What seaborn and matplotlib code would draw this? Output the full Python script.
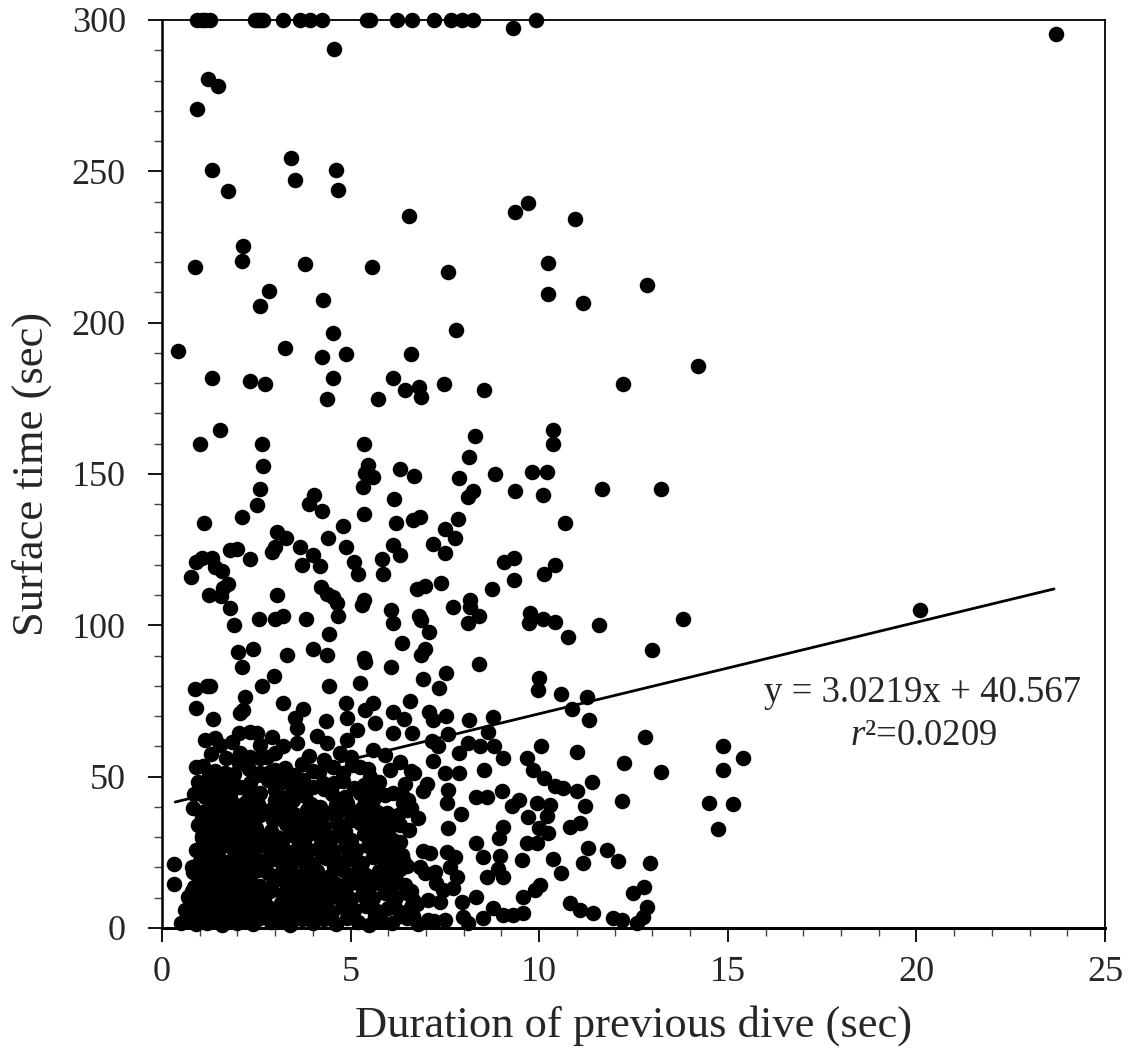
import numpy as np
import pandas as pd
import matplotlib
matplotlib.use("Agg")
import matplotlib.pyplot as plt
import seaborn as sns
from matplotlib.ticker import MultipleLocator

# ---------------- data ----------------
# points whose surface time was capped at 300 s
capped_pts = [(0.92, 300), (1.05, 300), (1.14, 300), (1.27, 300), (2.47, 300), (2.55, 300),
              (2.60, 300), (2.68, 300), (3.22, 300), (3.66, 300), (3.92, 300), (4.23, 300),
              (5.43, 300), (5.51, 300), (6.22, 300), (6.62, 300), (7.22, 300), (7.66, 300),
              (7.95, 300), (8.25, 300), (9.91, 300), (9.30, 297.2), (23.7, 295.5), (4.56, 290.5)]

high_pts = [(1.21, 280.4), (1.48, 278.2), (0.92, 270.5), (3.42, 254.5), (1.33, 250.4), (4.61, 250.3),
            (3.53, 247.3), (1.76, 243.4), (4.67, 243.8), (6.56, 235.4), (9.36, 236.4), (9.69, 239.6),
            (10.96, 234.3), (2.14, 225.4), (2.13, 220.4), (0.87, 218.5), (3.79, 219.4), (5.58, 218.5),
            (7.57, 216.6), (10.23, 219.6), (10.23, 209.6), (11.17, 206.4), (12.87, 212.4), (2.84, 210.4),
            (2.60, 205.5), (4.28, 207.5), (4.53, 196.7), (7.79, 197.5), (0.42, 190.6), (3.27, 191.7),
            (4.25, 188.6), (4.87, 189.6), (6.60, 189.6), (14.22, 185.7), (1.33, 181.6), (2.34, 180.6),
            (2.72, 179.6), (4.53, 181.6), (6.13, 181.6), (6.44, 177.7), (6.81, 178.8), (6.86, 175.5),
            (7.48, 179.6), (8.54, 177.7), (12.21, 179.6), (4.37, 174.7), (5.72, 174.7), (1.53, 164.6),
            (1.01, 159.8), (2.65, 159.8), (5.36, 159.8), (8.29, 162.6), (8.13, 155.7), (10.36, 164.7),
            (10.36, 159.8), (2.67, 152.7), (5.47, 153.0), (5.38, 150.2), (5.60, 149.1), (6.30, 151.8),
            (6.68, 149.3), (7.87, 148.8), (8.82, 149.9), (9.81, 150.7), (10.20, 150.7)]

mid_pts = [(5.34, 145.8), (2.60, 144.9), (4.03, 143.0), (8.25, 144.4), (9.36, 144.4), (11.67, 145.0),
           (10.09, 143.0), (13.23, 144.9), (8.12, 142.3), (2.53, 139.8), (3.90, 140.1), (4.25, 137.9),
           (5.36, 136.8), (6.15, 141.6), (6.20, 133.9), (1.12, 133.9), (2.13, 135.9), (4.79, 132.9),
           (3.04, 130.9), (3.29, 128.7), (4.41, 128.7), (3.00, 126.0), (2.91, 124.3), (3.66, 126.0),
           (4.87, 126.0), (1.80, 124.9), (2.00, 125.1), (1.05, 122.1), (1.32, 122.1), (0.90, 121.0),
           (2.33, 121.8), (6.13, 126.5), (5.82, 121.9), (6.30, 123.2), (5.09, 121.0), (4.00, 123.2),
           (3.70, 119.9), (4.19, 119.6), (1.41, 119.4), (1.58, 117.9), (0.78, 116.1), (5.19, 116.8),
           (5.87, 116.9), (1.76, 113.5), (1.63, 112.2), (1.25, 110.0), (1.56, 109.7), (3.04, 110.0),
           (4.22, 112.6), (4.37, 110.3), (4.54, 109.5), (4.63, 107.3), (5.36, 108.4), (5.31, 106.7),
           (6.07, 105.1), (6.12, 100.9), (1.80, 105.6), (1.92, 100.1), (2.58, 102.1), (3.00, 102.1),
           (3.22, 103.1), (3.81, 102.1), (4.66, 103.1), (10.68, 133.9), (6.66, 134.8), (6.84, 135.9),
           (7.86, 135.0), (7.50, 131.7), (7.77, 128.7), (7.19, 126.9), (7.50, 124.0), (9.08, 121.0),
           (9.34, 122.3), (10.42, 119.9), (10.13, 116.9), (9.33, 115.0), (7.40, 113.9), (6.75, 112.0),
           (6.97, 113.1), (8.76, 112.0), (8.17, 108.4), (7.71, 105.9), (8.17, 106.1), (8.40, 103.1),
           (8.10, 100.9), (6.82, 103.1), (6.86, 101.8), (9.76, 104.2), (9.74, 100.9), (10.09, 102.0),
           (10.42, 101.0), (11.59, 100.1), (13.80, 102.0), (20.10, 105.0)]

lowmid_pts = [(12.98, 92.0), (4.43, 97.0), (2.01, 91.1), (2.40, 92.1), (3.31, 90.2), (4.01, 92.1),
              (4.37, 90.2), (5.36, 89.1), (5.38, 88.0), (6.07, 86.3), (2.11, 86.1), (2.97, 83.2),
              (2.66, 80.0), (4.44, 80.0), (5.25, 81.0), (0.87, 79.0), (1.19, 79.9), (1.27, 79.9),
              (2.20, 76.4), (0.90, 72.6), (2.16, 72.0), (2.07, 70.9), (1.36, 69.0), (3.22, 74.2),
              (3.73, 72.2), (3.53, 69.3), (4.35, 68.4), (4.88, 74.2), (4.90, 69.3), (5.38, 72.0),
              (5.60, 74.2), (5.65, 67.6), (6.13, 71.5), (6.35, 94.1), (10.76, 96.0), (7.08, 97.9),
              (6.97, 92.1), (6.86, 90.2), (8.41, 87.1), (10.00, 82.5), (9.98, 78.6), (7.53, 84.1),
              (6.91, 82.2), (7.35, 79.2), (6.57, 75.1), (10.57, 77.2), (11.26, 76.2), (10.86, 72.3),
              (11.33, 68.7), (7.09, 71.5), (7.19, 68.7), (7.53, 70.0), (8.14, 68.7), (8.78, 69.6),
              (6.42, 68.9), (12.80, 63.2), (14.86, 60.2), (15.40, 56.3), (13.22, 51.4), (14.88, 52.2),
              (14.51, 41.4), (15.13, 40.9), (14.75, 32.8), (12.94, 21.4), (12.78, 13.4), (12.85, 6.8),
              (12.76, 3.7)]

right_low_pts = [(8.63, 64.9), (7.59, 64.1), (6.62, 64.3), (7.15, 61.9), (7.33, 60.1), (8.12, 61.0),
                 (8.43, 60.1), (8.81, 60.1), (10.04, 60.1), (10.99, 58.2), (12.25, 54.4), (7.87, 57.7),
                 (9.05, 56.3), (9.67, 56.3), (7.19, 55.3), (9.83, 52.2), (8.54, 52.2), (7.50, 51.3),
                 (7.88, 51.1), (6.69, 51.1), (10.13, 49.4), (11.41, 48.1), (10.42, 47.0), (10.64, 46.2),
                 (10.99, 45.3), (9.02, 45.4), (7.59, 45.6), (7.02, 47.5), (6.93, 45.4), (8.32, 43.4),
                 (8.62, 43.2), (7.55, 41.4), (12.19, 42.1), (11.21, 40.3), (9.27, 40.3), (9.47, 42.3),
                 (9.93, 41.4), (10.29, 40.6), (9.71, 36.8), (10.20, 37.0), (6.80, 36.2), (7.93, 37.7),
                 (6.51, 42.3), (6.60, 39.5), (7.59, 33.1), (9.03, 33.5), (10.82, 33.5), (11.08, 34.6),
                 (10.00, 32.9), (10.24, 31.3), (8.94, 29.6), (9.67, 28.0), (9.93, 28.2), (8.32, 28.2),
                 (11.30, 26.5), (11.79, 25.8), (6.93, 25.5), (7.10, 24.7), (7.55, 25.2), (7.77, 23.6),
                 (8.96, 23.8), (8.52, 23.4), (9.54, 22.5), (6.40, 22.5), (10.36, 22.7), (11.17, 21.4),
                 (12.10, 22.2), (8.92, 19.4), (10.58, 18.3), (6.84, 20.3), (6.97, 18.1), (7.24, 18.6),
                 (7.64, 20.3), (7.81, 17.0), (8.61, 17.0), (9.05, 17.0), (7.26, 14.8), (7.46, 12.6),
                 (7.72, 13.1), (10.02, 14.2), (9.89, 12.6), (12.49, 11.5), (9.58, 10.3), (8.32, 10.3),
                 (6.49, 11.5), (6.66, 9.3), (7.06, 9.3), (7.37, 8.7), (10.82, 8.2), (11.08, 5.9),
                 (11.43, 4.8), (11.96, 3.2), (12.19, 2.6), (12.58, 1.5), (8.52, 3.2), (8.78, 6.5),
                 (9.05, 4.3), (9.31, 4.3), (9.58, 5.1), (7.99, 3.7), (8.12, 1.5), (7.06, 2.6),
                 (7.50, 2.6), (7.95, 8.7), (6.49, 4.7), (6.66, 3.8)]

left_low_pts = [(1.14, 62.1), (1.41, 62.7), (1.54, 60.5), (2.05, 64.3), (2.33, 64.9), (2.51, 64.3),
                (2.60, 60.5), (2.91, 63.2), (3.57, 61.0), (3.57, 66.0), (2.07, 57.7), (2.33, 56.6),
                (2.60, 56.1), (2.78, 56.6), (0.90, 53.3), (3.26, 52.8), (2.86, 51.6), (0.96, 48.3),
                (1.01, 45.6), (1.67, 51.1), (1.54, 48.9), (1.27, 45.6), (1.80, 43.9), (2.07, 46.7),
                (2.33, 47.8), (2.60, 51.1), (3.48, 42.3), (3.00, 42.3), (2.24, 41.7), (2.86, 39.0),
                (2.95, 35.7), (0.83, 39.5), (1.05, 36.8), (1.27, 35.7), (1.71, 36.8), (2.07, 35.7),
                (2.42, 35.7), (1.05, 29.6), (0.33, 21.1), (0.33, 14.5), (0.83, 18.6), (3.75, 48.9),
                (4.01, 46.7), (4.28, 47.8), (4.19, 40.1), (4.37, 37.9), (4.54, 53.3), (4.72, 57.7),
                (4.90, 62.1), (5.16, 65.4), (4.37, 61.0), (5.25, 53.3), (5.60, 58.8), (5.51, 50.0),
                (6.04, 52.2), (6.13, 64.3), (4.90, 41.2), (5.25, 39.0), (5.60, 42.3), (5.96, 37.9),
                (6.13, 44.5), (3.04, 30.2), (3.66, 32.4), (4.01, 33.5), (4.54, 30.2), (5.25, 34.6),
                (5.69, 32.4), (6.13, 29.1), (1.71, 27.4), (3.57, 22.5)]

dense_pts = [
    (0.5, 1.5), (0.7, 2.8), (0.9, 1.2), (1.0, 3.5), (1.2, 1.8), (1.4, 2.4), (1.6, 1.0), (1.8, 3.1),
    (2.0, 1.6), (2.2, 2.7), (2.4, 1.3), (2.6, 3.4), (2.9, 1.9), (3.1, 2.5), (3.4, 1.1), (3.7, 3.0),
    (4.0, 1.7), (4.3, 2.9), (4.6, 1.4), (4.9, 3.2), (5.2, 2.1), (5.5, 1.0), (5.8, 2.6), (6.1, 1.8),
    (6.5, 3.3), (6.8, 1.2), (7.2, 2.2),
    (0.6, 6.1), (0.8, 5.2), (1.1, 7.0), (1.3, 5.6), (1.5, 6.6), (1.7, 5.0), (1.9, 7.3), (2.1, 5.9),
    (2.3, 6.8), (2.5, 5.3), (2.8, 7.1), (3.0, 5.7), (3.3, 6.4), (3.6, 5.1), (3.9, 7.2), (4.2, 6.0),
    (4.5, 5.4), (4.8, 6.9), (5.1, 5.8), (5.4, 7.4), (5.7, 5.5), (6.0, 6.7), (6.3, 5.2), (6.6, 7.0),
    (0.7, 10.2), (0.95, 9.1), (1.15, 11.0), (1.35, 9.6), (1.55, 10.7), (1.8, 9.3), (2.0, 11.3),
    (2.2, 9.8), (2.45, 10.5), (2.7, 9.2), (3.2, 11.1), (3.5, 9.7), (3.8, 10.4), (4.1, 9.4),
    (4.4, 11.2), (4.7, 10.0), (5.0, 9.5), (5.3, 10.9), (5.6, 9.9), (5.9, 11.4), (6.2, 10.1),
    (0.85, 13.6), (1.05, 14.8), (1.25, 13.2), (1.45, 15.1), (1.7, 13.9), (1.9, 14.4), (2.1, 13.1),
    (2.35, 15.3), (2.6, 14.0), (2.9, 13.4), (3.3, 14.9), (3.6, 13.7), (3.9, 15.2), (4.3, 13.3),
    (4.6, 14.6), (4.9, 13.8), (5.2, 15.0), (5.5, 13.5), (5.8, 14.7), (6.1, 13.9), (6.45, 14.3),
    (0.95, 17.8), (1.2, 18.9), (1.4, 17.2), (1.65, 19.3), (1.85, 17.6), (2.05, 18.5), (2.3, 17.1),
    (2.55, 19.0), (2.8, 18.2), (3.1, 17.5), (3.4, 19.2), (3.75, 17.9), (4.1, 18.7), (4.45, 17.3),
    (4.8, 19.1), (5.1, 18.0), (5.4, 17.4), (5.75, 18.8), (6.05, 17.7), (6.3, 19.4),
    (1.0, 22.1), (1.3, 21.3), (1.5, 23.0), (1.75, 21.8), (2.0, 22.6), (2.25, 21.1), (2.5, 23.2),
    (2.75, 21.6), (3.0, 22.9), (3.35, 21.4), (3.7, 22.4), (4.0, 21.2), (4.35, 23.1), (4.7, 21.9),
    (5.0, 22.7), (5.3, 21.5), (5.6, 23.3), (5.9, 22.0), (6.2, 21.7),
    (0.9, 25.8), (1.15, 26.9), (1.4, 25.2), (1.6, 27.1), (1.9, 25.6), (2.15, 26.4), (2.4, 25.1),
    (2.65, 27.3), (2.95, 26.0), (3.3, 25.4), (3.6, 26.8), (3.9, 25.7), (4.2, 27.0), (4.55, 25.3),
    (4.85, 26.6), (5.15, 25.9), (5.45, 27.2), (5.8, 26.2), (6.05, 25.5),
    (1.05, 30.3), (1.3, 29.4), (1.55, 30.9), (1.85, 29.1), (2.1, 31.0), (2.35, 29.7), (2.6, 30.5),
    (3.2, 29.3), (3.45, 30.8), (3.8, 29.6), (4.1, 31.2), (4.4, 29.9), (4.75, 30.6), (5.0, 29.2),
    (5.35, 31.1), (5.65, 29.8), (5.95, 30.4),
    (0.95, 34.1), (1.2, 33.2), (1.5, 34.8), (1.8, 33.6), (2.2, 34.5), (2.5, 33.1), (3.3, 34.3),
    (3.6, 33.8), (3.95, 34.9), (4.3, 33.4), (4.65, 34.6), (5.5, 33.3), (5.85, 34.7), (6.3, 33.9),
    (1.1, 38.3), (1.4, 37.4), (1.65, 38.9), (2.0, 37.6), (2.3, 38.7), (2.6, 37.2), (3.2, 38.5),
    (3.5, 37.8), (3.85, 39.0), (4.6, 37.3), (4.95, 38.6), (5.4, 37.9), (5.7, 38.4), (6.25, 37.5),
    (6.5, 39.1),
    (0.85, 44.2), (1.15, 43.3), (1.45, 44.8), (2.35, 43.6), (2.6, 44.5), (3.2, 43.1), (3.45, 44.9),
    (3.8, 43.7), (4.5, 44.3), (4.85, 43.4), (5.25, 44.7), (5.9, 43.9), (6.35, 44.1),
    (1.3, 48.4), (1.75, 47.3), (2.8, 48.8), (3.1, 47.6), (3.3, 49.0), (4.55, 47.9), (4.8, 48.6),
    (5.35, 47.2), (5.75, 48.2), (6.45, 47.7),
    (1.1, 53.4), (1.4, 51.8), (2.05, 54.6), (3.0, 52.1), (3.7, 54.2), (4.15, 51.5), (5.05, 53.8),
    (5.45, 52.6), (6.3, 54.9), (6.6, 51.9)]

dense_fill_pts = [
    (0.75, 4.0), (1.05, 3.8), (1.35, 4.2), (1.75, 4.1), (2.15, 3.9), (2.75, 4.3), (3.25, 3.7),
    (3.85, 4.0), (4.45, 4.2), (5.05, 3.9), (5.65, 4.1), (6.3, 3.8),
    (0.85, 8.1), (1.25, 7.8), (1.65, 8.3), (2.4, 8.0), (3.15, 8.2), (3.75, 7.9), (4.35, 8.4),
    (4.95, 8.0), (5.55, 7.7), (6.15, 8.2), (6.75, 8.0),
    (0.8, 12.1), (1.45, 12.4), (2.3, 11.9), (2.85, 12.3), (3.4, 12.0), (4.0, 12.5), (4.6, 12.2),
    (5.45, 12.0), (6.05, 12.6), (6.6, 12.2),
    (1.1, 16.2), (1.6, 15.8), (2.2, 16.4), (3.0, 16.0), (3.55, 16.3), (4.2, 15.9), (4.95, 16.1),
    (5.65, 16.5), (6.2, 16.0),
    (0.8, 20.1), (1.55, 19.9), (2.4, 20.3), (3.2, 20.0), (3.9, 20.4), (4.55, 20.2), (5.25, 19.8),
    (5.95, 20.3), (6.5, 20.5),
    (1.25, 24.0), (2.1, 23.8), (2.85, 24.2), (3.5, 23.9), (4.25, 24.1), (4.95, 24.3), (5.75, 23.7),
    (6.35, 24.2),
    (1.45, 28.1), (2.25, 28.3), (2.95, 28.0), (3.65, 28.4), (4.3, 27.9), (4.95, 28.2), (5.55, 28.0),
    (6.3, 28.3),
    (1.4, 32.0), (2.0, 32.3), (2.9, 32.1), (3.4, 32.5), (4.2, 31.8), (4.85, 32.2), (6.0, 31.9),
    (6.55, 32.4),
    (1.9, 36.0), (3.05, 36.2), (3.7, 35.9), (4.15, 36.3), (5.0, 35.8), (5.55, 36.1), (6.05, 35.7),
    (1.3, 40.8), (1.6, 41.2), (1.95, 40.5), (2.55, 41.0), (3.3, 40.3), (3.95, 41.1), (4.6, 40.6),
    (5.35, 40.8), (6.4, 41.3),
    (1.6, 45.8), (2.2, 46.1), (3.0, 45.5), (3.6, 46.3), (4.3, 45.9), (5.1, 46.2), (5.6, 45.6),
    (1.25, 50.2), (1.9, 50.8), (2.3, 52.5), (3.5, 50.7), (4.0, 51.9), (4.8, 51.2), (1.7, 56.2),
    (1.3, 57.5), (3.0, 57.8), (3.9, 56.9), (4.3, 55.5), (5.0, 56.5), (5.9, 57.2), (1.85, 61.5),
    (3.2, 60.0), (4.1, 63.5)]

# regression reported in the figure
slope = 3.0219
intercept = 40.567
fit_range = [0.35, 23.65]
equation_text = "y = 3.0219x + 40.567"
r2_text = r"$r$²=0.0209"

x_ticks = [0, 5, 10, 15, 20, 25]
y_ticks = [0, 50, 100, 150, 200, 250, 300]

# ---------------- figure ----------------
sns.set_style("ticks")
plt.rcParams["font.family"] = ["Liberation Serif", "DejaVu Serif"]
plt.rcParams["mathtext.fontset"] = "custom"
plt.rcParams["mathtext.rm"] = "Liberation Serif"
plt.rcParams["mathtext.it"] = "Liberation Serif:italic"

all_pts = (capped_pts + high_pts + mid_pts + lowmid_pts + right_low_pts
           + left_low_pts + dense_pts + dense_fill_pts)
df = pd.DataFrame(all_pts, columns=["duration", "surface"])

W, H = 1130, 1051
fig = plt.figure(figsize=(W / 100, H / 100), dpi=100)
ax = fig.add_axes([162 / W, 1 - 928 / H, (1105 - 162) / W, (928 - 20) / H])

sns.scatterplot(data=df, x="duration", y="surface", color="black", s=125,
                linewidth=0, ax=ax, clip_on=False, legend=False, zorder=3)

fx = np.array(fit_range)
ax.plot(fx, slope * fx + intercept, color="black", lw=2, zorder=4)

ax.set_xlim(0, 25)
ax.set_ylim(0, 300)
ax.set_xticks(x_ticks)
ax.set_yticks(y_ticks)
ax.xaxis.set_minor_locator(MultipleLocator(1))
ax.yaxis.set_minor_locator(MultipleLocator(10))
ax.tick_params(which="major", direction="out", length=10, width=1.3,
               labelsize=26, color="black")
ax.tick_params(axis="y", which="major", pad=16)
ax.tick_params(axis="x", which="major", pad=10)
ax.tick_params(which="minor", direction="out", length=6, width=1.0, color="#444444")
ax.tick_params(top=False, right=False, which="both")

for sp in ax.spines.values():
    sp.set_visible(True)
    sp.set_color("black")
    sp.set_linewidth(1.3)
ax.spines["bottom"].set_linewidth(2.2)
ax.spines["left"].set_linewidth(1.8)

ax.set_xlabel("Duration of previous dive (sec)", fontsize=32, labelpad=12)
ax.set_ylabel("Surface time (sec)", fontsize=32, labelpad=14)

ax.text(20.15, 74.7, equation_text, fontsize=26.5, ha="center", va="baseline")
ax.text(20.2, 60.5, r2_text, fontsize=26.5, ha="center", va="baseline")

fig.savefig("out.png", dpi=100)
